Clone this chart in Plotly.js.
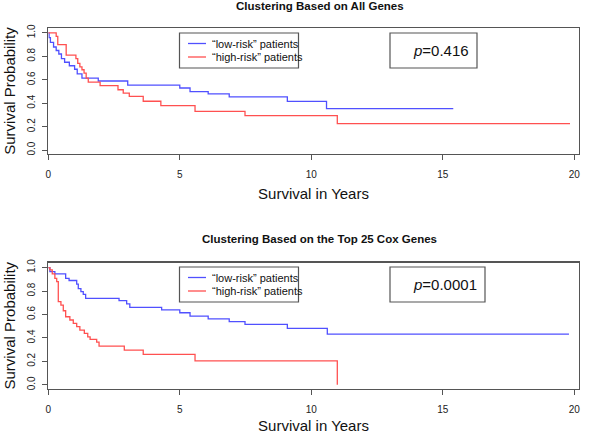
<!DOCTYPE html>
<html>
<head>
<meta charset="utf-8">
<script src="https://cdn.plot.ly/plotly-3.0.1.min.js"></script>
<style>html,body{margin:0;padding:0;background:#fff}#chart{width:591px;height:434px}</style>
</head>
<body>
<div id="chart"></div>
<script>
// ---- data (years, survival probability) ----
var topTitle = "Clustering Based on All Genes";
var botTitle = "Clustering Based on the Top 25 Cox Genes";
var seriesNames = ["\u201clow-risk\u201d patients", "\u201chigh-risk\u201d patients"];
var pValues = ["0.416", "0.0001"];
var xTicks = [0, 5, 10, 15, 20];
var yTicks = [0, 0.2, 0.4, 0.6, 0.8, 1.0];

var topLowT = [0, 0.03, 0.08, 0.2, 0.3, 0.4, 0.5, 0.62, 0.8, 1.0, 1.1, 1.28, 1.9, 3.02, 5.0, 5.39, 6.08, 6.88, 9.09, 10.58, 15.4];
var topLowS = [1.0, 0.96, 0.92, 0.88, 0.85, 0.82, 0.78, 0.75, 0.72, 0.69, 0.65, 0.615, 0.59, 0.555, 0.53, 0.50, 0.48, 0.454, 0.416, 0.354, 0.354];

var topHighT = [0, 0.30, 0.36, 0.68, 1.05, 1.12, 1.2, 1.28, 1.36, 1.44, 1.52, 1.97, 2.65, 2.85, 3.08, 3.61, 4.28, 5.58, 7.48, 10.99, 19.84];
var topHighS = [1.0, 0.97, 0.90, 0.81, 0.78, 0.74, 0.71, 0.686, 0.657, 0.615, 0.58, 0.551, 0.515, 0.487, 0.459, 0.417, 0.38, 0.331, 0.295, 0.227, 0.227];

var botLowT = [0, 0.06, 0.25, 0.66, 0.79, 1.08, 1.14, 1.24, 1.33, 1.42, 2.69, 2.98, 3.1, 4.31, 5.0, 5.39, 6.08, 6.88, 7.48, 9.09, 10.61, 19.8];
var botLowS = [1.0, 0.966, 0.946, 0.909, 0.89, 0.86, 0.82, 0.795, 0.772, 0.738, 0.718, 0.69, 0.661, 0.64, 0.615, 0.587, 0.562, 0.539, 0.516, 0.482, 0.433, 0.433];

var botHighT = [0, 0.06, 0.15, 0.25, 0.32, 0.38, 0.48, 0.57, 0.66, 0.82, 0.95, 1.08, 1.2, 1.37, 1.5, 1.59, 1.84, 1.93, 2.89, 3.61, 5.58, 10.99, 10.99];
var botHighS = [1.0, 0.98, 0.946, 0.909, 0.88, 0.71, 0.68, 0.632, 0.581, 0.553, 0.524, 0.496, 0.467, 0.439, 0.41, 0.388, 0.365, 0.33, 0.296, 0.259, 0.205, 0.205, 0.0];

// ---- styling ----
var W = 591, H = 434;
var BLUE = "#5050ff", RED = "#ff5050", BOX = "#555555", FONT = "Liberation Sans, Arial, Helvetica, sans-serif";
function px(x){ return x / W; }
function py(y){ return 1 - y / H; }

function trace(t, s, color, xa, ya){
  return {x: t, y: s, type: "scatter", mode: "lines", line: {shape: "hv", color: color, width: 1.3},
          xaxis: xa, yaxis: ya, showlegend: false, hoverinfo: "skip"};
}
var data = [
  trace(topLowT, topLowS, BLUE, "x", "y"),
  trace(topHighT, topHighS, RED, "x", "y"),
  trace(botLowT, botLowS, BLUE, "x2", "y2"),
  trace(botHighT, botHighS, RED, "x2", "y2")
];

function xax(dom, anchor){
  return {domain: dom, anchor: anchor, range: [0, 20.17], showline: true, mirror: true, linecolor: BOX, linewidth: 1.3,
    ticks: "outside", ticklen: 5, tickcolor: BOX, tickwidth: 1, tickvals: xTicks, ticktext: xTicks.map(String),
    showgrid: false, zeroline: false, ticklabelstandoff: 6,
    tickfont: {family: FONT, size: 10, color: "#222"},
    title: {text: "Survival in Years", font: {family: FONT, size: 15, color: "#111"}, standoff: 9}};
}
function yax(dom, anchor){
  return {domain: dom, anchor: anchor, range: [-0.033, 1.042], showline: true, mirror: true, linecolor: BOX, linewidth: 1.3,
    ticks: "outside", ticklen: 5, tickcolor: BOX, tickwidth: 1, tickvals: yTicks, ticktext: yTicks.map(function(v){return v.toFixed(1);}),
    tickangle: -90, showgrid: false, zeroline: false, ticklabelstandoff: 3,
    tickfont: {family: FONT, size: 10, color: "#222"},
    title: {text: "Survival Probability", font: {family: FONT, size: 15, color: "#111"}, standoff: 6}};
}

var shapes = [], annotations = [];
function panel(yOff, pRight, pText, title, titleY){
  // legend box
  shapes.push({type: "rect", xref: "paper", yref: "paper", x0: px(179.5), x1: px(298.5), y0: py(yOff + 35), y1: py(yOff),
               line: {color: BOX, width: 1.2}});
  shapes.push({type: "line", xref: "paper", yref: "paper", x0: px(188), x1: px(206), y0: py(yOff + 10.5), y1: py(yOff + 10.5), line: {color: BLUE, width: 1.3}});
  shapes.push({type: "line", xref: "paper", yref: "paper", x0: px(188), x1: px(206), y0: py(yOff + 24), y1: py(yOff + 24), line: {color: RED, width: 1.3}});
  annotations.push({xref: "paper", yref: "paper", x: px(209.5), y: py(yOff + 10.5), xanchor: "left", yanchor: "middle", showarrow: false,
                    text: seriesNames[0], font: {family: FONT, size: 11, color: "#111"}});
  annotations.push({xref: "paper", yref: "paper", x: px(209.5), y: py(yOff + 24), xanchor: "left", yanchor: "middle", showarrow: false,
                    text: seriesNames[1], font: {family: FONT, size: 11, color: "#111"}});
  // p-value box
  shapes.push({type: "rect", xref: "paper", yref: "paper", x0: px(390), x1: px(pRight), y0: py(yOff + 35), y1: py(yOff),
               line: {color: BOX, width: 1.2}});
  annotations.push({xref: "paper", yref: "paper", x: px(pRight - 6), y: py(yOff + 17), xanchor: "right", yanchor: "middle", showarrow: false,
                    text: "<i>p</i>=" + pText, font: {family: FONT, size: 15, color: "#111"}});
  // panel title
  annotations.push({xref: "paper", yref: "paper", x: px(319.5), y: py(titleY), xanchor: "center", yanchor: "middle", showarrow: false,
                    text: "<b>" + title + "</b>", font: {family: FONT, size: 11.5, color: "#111"}});
}
panel(33, 477, pValues[0], topTitle, 6);
panel(267, 485, pValues[1], botTitle, 239);

var layout = {
  width: W, height: H, margin: {l: 0, r: 0, t: 0, b: 0}, paper_bgcolor: "#fff", plot_bgcolor: "#fff",
  font: {family: FONT},
  xaxis: xax([px(48.3), px(578.7)], "y"),
  yaxis: yax([py(154), py(28)], "x"),
  xaxis2: xax([px(48.3), px(578.7)], "y2"),
  yaxis2: yax([py(388.7), py(262.7)], "x2"),
  shapes: shapes, annotations: annotations, showlegend: false
};
Plotly.newPlot("chart", data, layout, {displayModeBar: false, staticPlot: true});
</script>
</body>
</html>
